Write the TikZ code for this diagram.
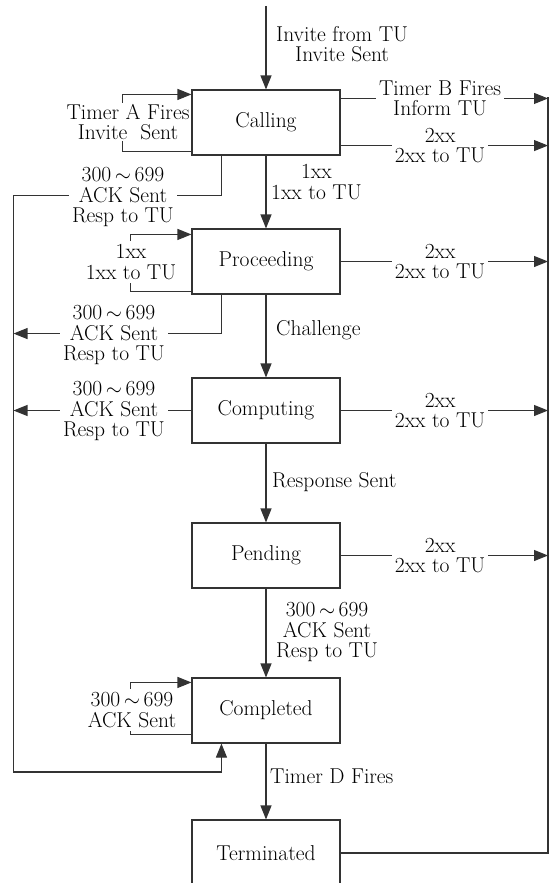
\documentclass[tikz,border=0pt]{standalone}
\usetikzlibrary{arrows.meta,calc}
\definecolor{ln}{HTML}{333333}
\tikzset{
  stbox/.style={draw=ln, line width=1.1pt, minimum width=148pt, minimum height=65pt, inner sep=0pt, font=\fontsize{21.5}{20.5}\selectfont},
  lab/.style={font=\fontsize{21.5}{20.5}\selectfont, align=center, inner sep=2pt},
  onl/.style={lab, fill=white, inner sep=3pt},
  conn/.style={draw=ln, line width=1.1pt},
  arr/.style={conn, -{Triangle[length=14pt,width=11pt]}},
}
\begin{document}
\begin{tikzpicture}[x=1pt,y=-1pt]
\useasboundingbox (0,0) rectangle (557,883);
\clip (0,0) rectangle (557,883);
% states
\node[stbox] (calling) at (266,122.5) {Calling};
\node[stbox] (proceeding) at (266,261.5) {Proceeding};
\node[stbox] (computing) at (266,410.5) {Computing};
\node[stbox] (pending) at (266,555.5) {Pending};
\node[stbox] (completed) at (266,710.5) {Completed};
\node[stbox, minimum height=66pt] (terminated) at (266,853) {Terminated};
% helper coordinates
\coordinate (start) at (266,6);
\coordinate (rline) at (548,0);
\coordinate (lb) at (13.5,772);
% main vertical flow
\draw[arr] (start) -- (calling.north);
\draw[arr] (calling.south) -- (proceeding.north);
\draw[arr] (proceeding.south) -- (computing.north);
\draw[arr] (computing.south) -- (pending.north);
\draw[arr] (pending.south) -- (completed.north);
\draw[arr] (completed.south) -- (terminated.north);
\node[lab, anchor=west] (lInv) at (274,44) {Invite from TU\\Invite Sent};
\node[lab, anchor=west] (l1xx) at (269,182) {1xx\\1xx to TU};
\node[lab, anchor=west] (lCh) at (274,330) {Challenge};
\node[lab, anchor=west] (lRS) at (270,482) {Response Sent};
\node[lab, anchor=west] (lPC) at (274,632) {300\,$\sim$\,699\\ACK Sent\\Resp to TU};
\node[lab, anchor=west] (lTD) at (268,776) {Timer D Fires};
% right side exits
\coordinate (cB) at ($(calling.north east)+(0,9)$);
\coordinate (c2) at ($(calling.south east)+(0,-10)$);
\draw[arr] (cB) -- (cB -| rline) node[onl, pos=0.48] (lTB) {Timer B Fires\\Inform TU};
\draw[arr] (c2) -- (c2 -| rline) node[onl, pos=0.48] (lC2) {2xx\\2xx to TU};
\draw[arr] (proceeding.east) -- (proceeding.east -| rline) node[onl, pos=0.48] (lP2) {2xx\\2xx to TU};
\draw[arr] (computing.east) -- (computing.east -| rline) node[onl, pos=0.48] (lM2) {2xx\\2xx to TU};
\draw[arr] (pending.east) -- (pending.east -| rline) node[onl, pos=0.48] (lN2) {2xx\\2xx to TU};
\draw[conn] (terminated.east) -- (terminated.east -| rline) -- ($(rline |- cB)+(0,-1)$);
% self loops
\coordinate (cA1) at ($(calling.south west)+(0,-4.5)$);
\coordinate (cA2) at ($(calling.north west)+(0,5)$);
\draw[arr] (cA1) -- ++(-69,0) |- (cA2);
\node[onl, inner sep=1pt] (lTA) at (128,122) {Timer A Fires\\Invite\ \ Sent};
\coordinate (pA1) at ($(proceeding.south west)+(0,-3)$);
\coordinate (pA2) at ($(proceeding.north west)+(0,6)$);
\draw[arr] (pA1) -- ++(-61,0) |- (pA2);
\node[onl] (lP1) at (131,262) {1xx\\1xx to TU};
\coordinate (mA1) at ($(completed.south west)+(0,-9)$);
\coordinate (mA2) at ($(completed.north west)+(0,5)$);
\draw[arr] (mA1) -- ++(-61,0) |- (mA2);
\node[onl] (lM1) at (132,710) {300\,$\sim$\,699\\ACK Sent};
% left side exits
\coordinate (cL) at ($(calling.south west)+(30,0)$);
\coordinate (cLd) at ($(cL)+(0,40)$);
\draw[arr] (cL) -- (cLd) -- (cLd -| lb) -- (lb) -- (lb -| cL) -- (completed.south -| cL);
\node[onl] (lCL) at (123,197) {300\,$\sim$\,699\\ACK Sent\\Resp to TU};
\coordinate (pL) at ($(proceeding.south west)+(30,0)$);
\coordinate (pLd) at ($(pL)+(0,39)$);
\draw[arr] (pL) -- (pLd) -- (pLd -| lb);
\node[onl] (lPL) at (114,335) {300\,$\sim$\,699\\ACK Sent\\Resp to TU};
\draw[arr] (computing.west) -- (computing.west -| lb);
\node[onl] (lML) at (114,411) {300\,$\sim$\,699\\ACK Sent\\Resp to TU};
\end{tikzpicture}
\end{document}
